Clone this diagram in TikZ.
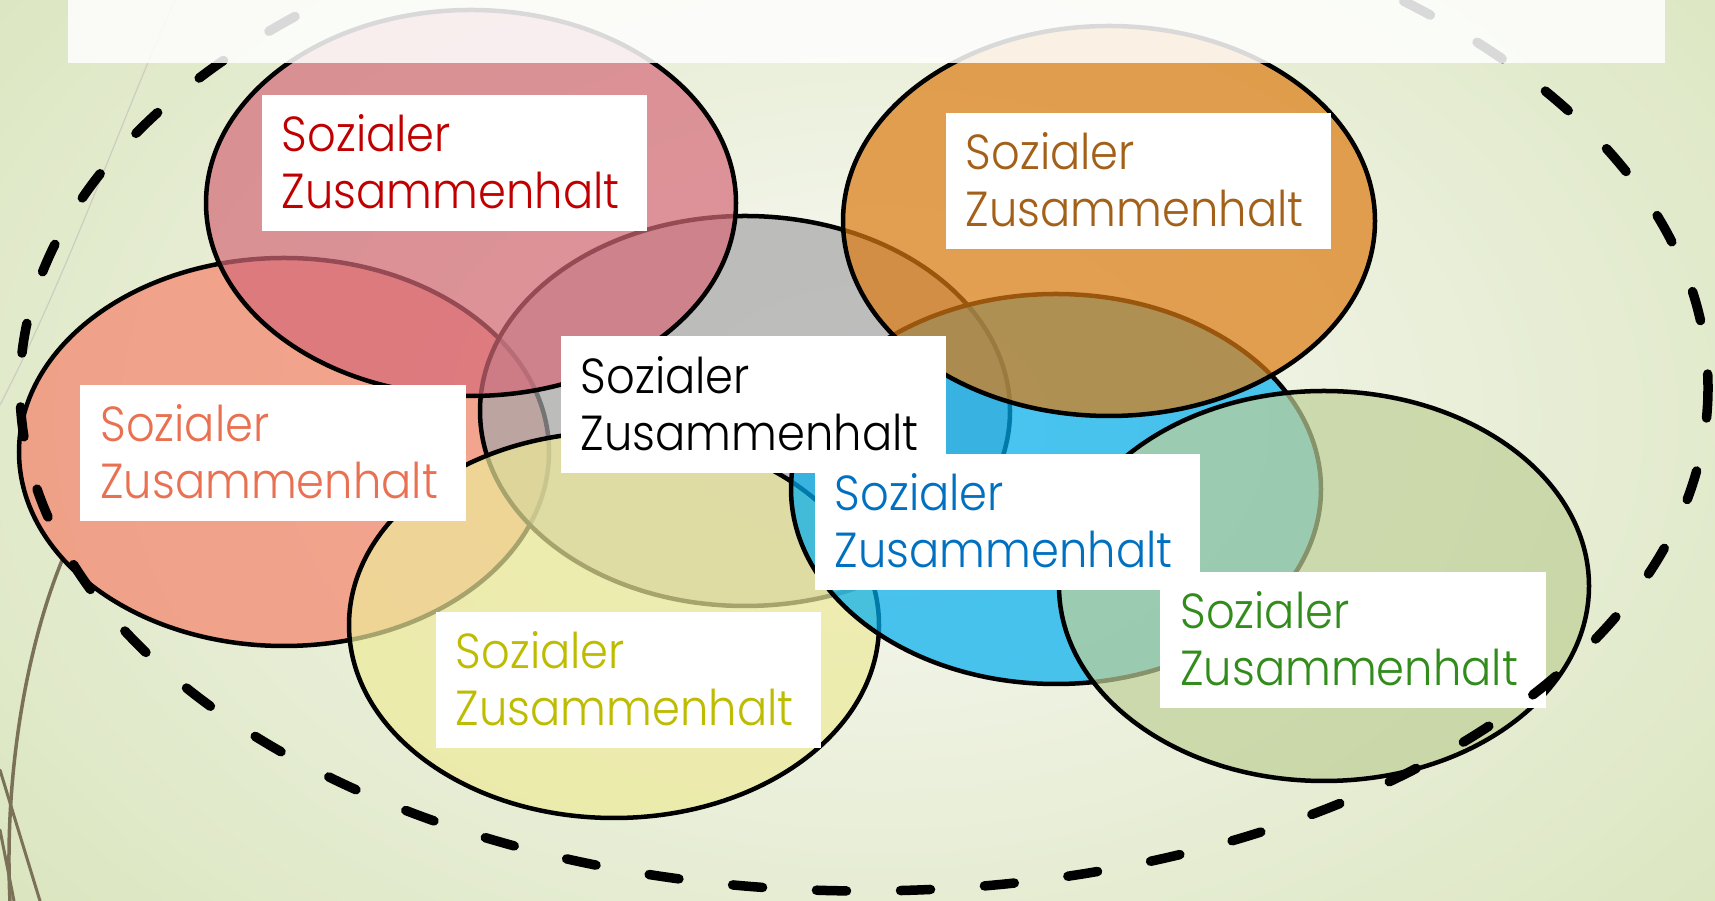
\documentclass[tikz,border=0pt]{standalone}
\usepackage{fontspec}
\setmainfont{Poppins}[UprightFont={* Light}, FakeStretch=0.91]
\usetikzlibrary{positioning}

\definecolor{bginner}{RGB}{249,249,245}
\definecolor{bgouter}{RGB}{218,229,190}
\definecolor{wisp}{RGB}{122,113,88}
\definecolor{wispfaint}{RGB}{205,205,192}
\definecolor{crimsonfill}{RGB}{213,106,121}
\definecolor{crimsontext}{RGB}{192,0,0}
\definecolor{salmonfill}{RGB}{245,131,108}
\definecolor{salmontext}{RGB}{233,113,82}
\definecolor{grayfill}{RGB}{166,165,168}
\definecolor{yellowfill}{RGB}{237,234,154}
\definecolor{yellowtext}{RGB}{190,188,0}
\definecolor{bluefill}{RGB}{0,174,240}
\definecolor{bluetext}{RGB}{0,112,192}
\definecolor{orangefill}{RGB}{220,123,18}
\definecolor{orangetext}{RGB}{163,96,24}
\definecolor{greenfill}{RGB}{191,208,152}
\definecolor{greentext}{RGB}{49,140,27}

\begin{document}
\begin{tikzpicture}[x=0.01cm, y=-0.01cm, line join=round, line cap=round,
    ring/.style={draw=black, line width=0.045cm, fill opacity=0.7},
    tag/.style={fill=white, minimum width=3.85cm, minimum height=1.36cm, inner sep=0pt},
    lbl/.style={align=left, inner sep=0pt, font=\fontsize{14}{16.2}\selectfont}]
    \useasboundingbox (0,0) rectangle (1715,901);
    % background
    \begin{scope}
        \clip (0,0) rectangle (1715,901);
        \shade[inner color=bginner, outer color=bgouter] (880,420) ellipse [x radius=1150, y radius=780];
    \end{scope}
    \draw[wispfaint, line width=0.012cm] (175,0) .. controls (125,110) and (70,270) .. (0,405);
    \draw[wisp, line width=0.035cm] (63,558) .. controls (25,650) and (4,780) .. (10,901);
    \draw[wisp, line width=0.03cm] (0,770) -- (40,901);
    \draw[wisp, line width=0.03cm] (0,830) -- (14,901);
    % the seven ellipses
    \draw[ring, fill=salmonfill] (284,452) ellipse [x radius=265, y radius=194];
    \draw[ring, fill=grayfill] (745,411) ellipse [x radius=265, y radius=195];
    \draw[ring, fill=yellowfill] (614,625) ellipse [x radius=265, y radius=193];
    \draw[ring, fill=bluefill] (1056,489) ellipse [x radius=265, y radius=195];
    \draw[ring, fill=crimsonfill] (471,203) ellipse [x radius=265, y radius=193];
    \draw[ring, fill=orangefill] (1109,221) ellipse [x radius=266, y radius=195];
    \draw[ring, fill=greenfill] (1324,586) ellipse [x radius=265, y radius=195];
    % labels
    \node[tag] (boxcrimson) at (454.5,163) {};
    \node[tag] (boxorange) at (1138.5,181) {};
    \node[tag] (boxgray) at (753.5,404.5) {};
    \node[tag] (boxsalmon) at (273,453) {};
    \node[tag] (boxblue) at (1007.5,522) {};
    \node[tag] (boxyellow) at (628.5,680) {};
    \node[tag] (boxgreen) at (1353,640) {};
    \node[lbl, text=crimsontext, below right=0.20cm and 0.20cm of boxcrimson.north west] (txtcrimson) {Sozialer\\Zusammenhalt};
    \node[lbl, text=orangetext, below right=0.20cm and 0.20cm of boxorange.north west] (txtorange) {Sozialer\\Zusammenhalt};
    \node[lbl, text=black, below right=0.20cm and 0.20cm of boxgray.north west] (txtgray) {Sozialer\\Zusammenhalt};
    \node[lbl, text=salmontext, below right=0.20cm and 0.20cm of boxsalmon.north west] (txtsalmon) {Sozialer\\Zusammenhalt};
    \node[lbl, text=bluetext, below right=0.20cm and 0.20cm of boxblue.north west] (txtblue) {Sozialer\\Zusammenhalt};
    \node[lbl, text=yellowtext, below right=0.20cm and 0.20cm of boxyellow.north west] (txtyellow) {Sozialer\\Zusammenhalt};
    \node[lbl, text=greentext, below right=0.20cm and 0.20cm of boxgreen.north west] (txtgreen) {Sozialer\\Zusammenhalt};
    % dashed hull
    \draw[black, line width=0.095cm, dash pattern=on 0.30cm off 0.54cm] (864,388) ellipse [x radius=844, y radius=503];
    % title band
    \fill[white, opacity=0.85] (68,0) rectangle (1665,63);
\end{tikzpicture}
\end{document}
